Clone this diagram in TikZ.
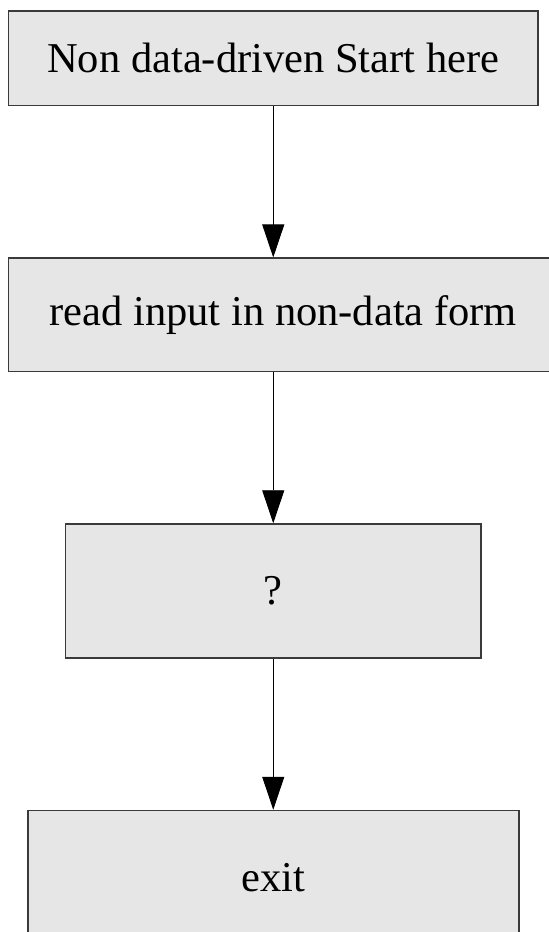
\documentclass[tikz,border=0pt]{standalone}
\usepackage{fontspec}
\setmainfont{Liberation Serif}
\newfontfamily\boxfont{Liberation Serif}
\usepackage{tikz}
\usetikzlibrary{shapes,arrows,arrows.meta}
\usetikzlibrary{positioning}
\definecolor{boxgray}{HTML}{E6E6E6}
\definecolor{edgegray}{HTML}{3A3A3A}
\tikzstyle{arrow} = [-{Triangle[width=22pt,length=33pt]}, line width=0.9pt]
\tikzstyle{process} = [rectangle, draw=edgegray, line width=1.5pt, fill=boxgray,
   inner sep=0pt, font=\boxfont\fontsize{42.5}{50}\selectfont]

\begin{document}
\begin{tikzpicture}[x=1pt,y=1pt,node distance=151pt]

\clip (0,0) rectangle (549,-932);

\node (s1) [process, minimum width=529.5pt, minimum height=94.7pt] at (273.25,-58.35) {Non data-driven Start here};

\node (s2) [process, below=of s1, xshift=10pt, minimum width=549.5pt, minimum height=113.3pt] {read input in non-data form};

\draw [arrow] (s1.south) -- (s1.south |- s2.north);

\node (s3) [process, below=of s2, xshift=-10pt, minimum width=415.7pt, minimum height=134pt] {?};

\draw [arrow] (s1.south |- s2.south) -- (s3.north);

\node (s4) [process, below=of s3, minimum width=491pt, minimum height=134pt] {exit};

\draw [arrow] (s3.south) -- (s4.north);

\end{tikzpicture}
\end{document}
